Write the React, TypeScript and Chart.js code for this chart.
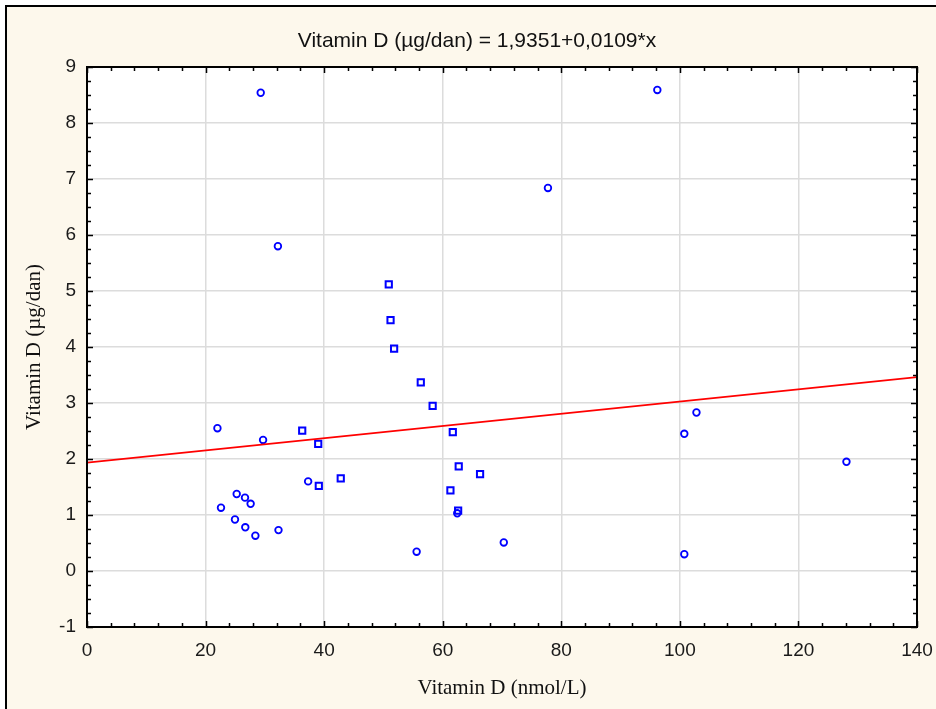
import React, { useEffect, useRef } from "react";
import { Chart, registerables } from "chart.js";

Chart.register(...registerables);

// Group 1 (circle markers)
const circleX = [29.3, 96.2, 77.75, 32.2, 102.8, 22.0, 29.7, 100.75, 128.1, 37.3, 25.25, 26.65, 27.6, 22.6, 24.96, 26.7, 28.4, 32.3, 62.45, 55.6, 70.3, 100.75];
const circleY = [8.54, 8.59, 6.84, 5.8, 2.83, 2.55, 2.34, 2.45, 1.95, 1.6, 1.375, 1.31, 1.2, 1.13, 0.92, 0.78, 0.63, 0.73, 1.03, 0.345, 0.51, 0.3];

// Group 2 (square markers)
const squareX = [36.3, 39.0, 39.1, 42.8, 50.9, 51.2, 51.8, 56.3, 58.3, 61.7, 62.7, 66.3, 61.3, 62.6];
const squareY = [2.505, 2.27, 1.52, 1.655, 5.12, 4.48, 3.97, 3.37, 2.95, 2.48, 1.87, 1.73, 1.44, 1.08];

// Regression: y = intercept + slope * x
const intercept = 1.9351;
const slope = 0.0109;
const lineX = [0, 140];

const xMin = 0, xMax = 140, xStep = 20, xMinorStep = 4;
const yMin = -1, yMax = 9, yStep = 1, yMinorStep = 0.25;

const chartTitle = "Vitamin D (µg/dan) = 1,9351+0,0109*x";
const xTitle = "Vitamin D (nmol/L)";
const yTitle = "Vitamin D (µg/dan)";

const SANS = "'Liberation Sans', Arial, sans-serif";
const SERIF = "'Liberation Serif', 'Times New Roman', serif";

export default function App() {
  const canvasRef = useRef<HTMLCanvasElement | null>(null);

  useEffect(() => {
    const canvas = canvasRef.current;
    if (!canvas) return;

    const framePlugin = {
      id: "frame",
      beforeDraw(chart: any) {
        const { ctx, chartArea: a } = chart;
        ctx.save();
        ctx.fillStyle = "#ffffff";
        ctx.fillRect(a.left, a.top, a.right - a.left, a.bottom - a.top);
        ctx.restore();
      },
      afterDraw(chart: any) {
        const { ctx, chartArea: a } = chart;
        const xs = chart.scales.x;
        const ys = chart.scales.y;
        ctx.save();
        ctx.strokeStyle = "#000000";
        ctx.lineWidth = 1.5;
        ctx.beginPath();
        for (let v = xMin; v <= xMax + 1e-9; v += xMinorStep) {
          const px = Math.round(xs.getPixelForValue(v)) + 0.5;
          const len = v % xStep === 0 ? 6 : 4;
          ctx.moveTo(px, a.bottom);
          ctx.lineTo(px, a.bottom - len);
          ctx.moveTo(px, a.top);
          ctx.lineTo(px, a.top + len);
        }
        for (let v = yMin; v <= yMax + 1e-9; v += yMinorStep) {
          const py = Math.round(ys.getPixelForValue(v)) + 0.5;
          const major = Math.abs(v - Math.round(v)) < 1e-6;
          const len = major ? 6 : 4;
          ctx.moveTo(a.left, py);
          ctx.lineTo(a.left + len, py);
          ctx.moveTo(a.right, py);
          ctx.lineTo(a.right - len, py);
        }
        ctx.stroke();
        ctx.lineWidth = 2;
        ctx.strokeRect(a.left, a.top, a.right - a.left, a.bottom - a.top);
        ctx.restore();
      },
    };

    const chart = new Chart(canvas, {
      type: "scatter",
      data: {
        datasets: [
          {
            type: "line",
            label: "Regression",
            data: lineX.map((x) => ({ x, y: intercept + slope * x })),
            borderColor: "#ff0000",
            borderWidth: 1.8,
            pointRadius: 0,
            fill: false,
            order: 0,
          } as any,
          {
            label: "Circles",
            data: circleX.map((x, i) => ({ x, y: circleY[i] })),
            pointStyle: "circle",
            pointRadius: 3.3,
            borderColor: "#0000ff",
            backgroundColor: "rgba(255,255,255,0)",
            borderWidth: 1.8,
            order: 1,
          },
          {
            label: "Squares",
            data: squareX.map((x, i) => ({ x, y: squareY[i] })),
            pointStyle: "rect",
            pointRadius: 4.4,
            borderColor: "#0000ff",
            backgroundColor: "rgba(255,255,255,0)",
            borderWidth: 2,
            order: 2,
          },
        ],
      },
      options: {
        animation: false,
        responsive: false,
        maintainAspectRatio: false,
        layout: { padding: { left: 18, right: 0, top: 0, bottom: 0 } },
        plugins: {
          legend: { display: false },
          tooltip: { enabled: false },
          title: {
            display: true,
            text: chartTitle,
            color: "#111111",
            font: { family: SANS, size: 21, weight: "normal" },
            padding: { top: 29, bottom: 12.8 },
          },
        },
        scales: {
          x: {
            type: "linear",
            min: xMin,
            max: xMax,
            border: { display: false },
            grid: { color: "#dcdcdc", lineWidth: 1.5, drawTicks: false },
            ticks: {
              stepSize: xStep,
              color: "#1a1a1a",
              padding: 12,
              font: { family: SANS, size: 19 },
            },
            title: {
              display: true,
              text: xTitle,
              color: "#111111",
              font: { family: SERIF, size: 21 },
              padding: { top: 0, bottom: 8 },
            },
            afterFit(scale: any) {
              scale.height = 82;
              scale.paddingLeft = 0;
              scale.paddingRight = 19;
            },
          },
          y: {
            type: "linear",
            min: yMin,
            max: yMax,
            border: { display: false },
            grid: { color: "#dcdcdc", lineWidth: 1.5, drawTicks: false },
            ticks: {
              stepSize: yStep,
              color: "#1a1a1a",
              padding: 11,
              font: { family: SANS, size: 19 },
            },
            title: {
              display: true,
              text: yTitle,
              color: "#111111",
              font: { family: SERIF, size: 21 },
              padding: { top: 4, bottom: 0 },
            },
            afterFit(scale: any) {
              scale.width = 69;
              scale.paddingTop = 0;
              scale.paddingBottom = 0;
            },
          },
        },
      },
      plugins: [framePlugin as any],
    });

    return () => {
      chart.destroy();
    };
  }, []);

  return (
    <div
      style={{
        position: "absolute",
        left: 0,
        top: 0,
        width: 936,
        height: 709,
        background: "#ffffff",
        overflow: "hidden",
      }}
    >
      <div
        style={{
          position: "absolute",
          left: 5,
          top: 5,
          right: 0,
          bottom: 0,
          borderLeft: "2px solid #000",
          borderTop: "2px solid #000",
          background: "#fdf8ec",
        }}
      />
      <canvas
        ref={canvasRef}
        width={936}
        height={709}
        style={{ position: "absolute", left: 0, top: 0, width: 936, height: 709 }}
      />
    </div>
  );
}
